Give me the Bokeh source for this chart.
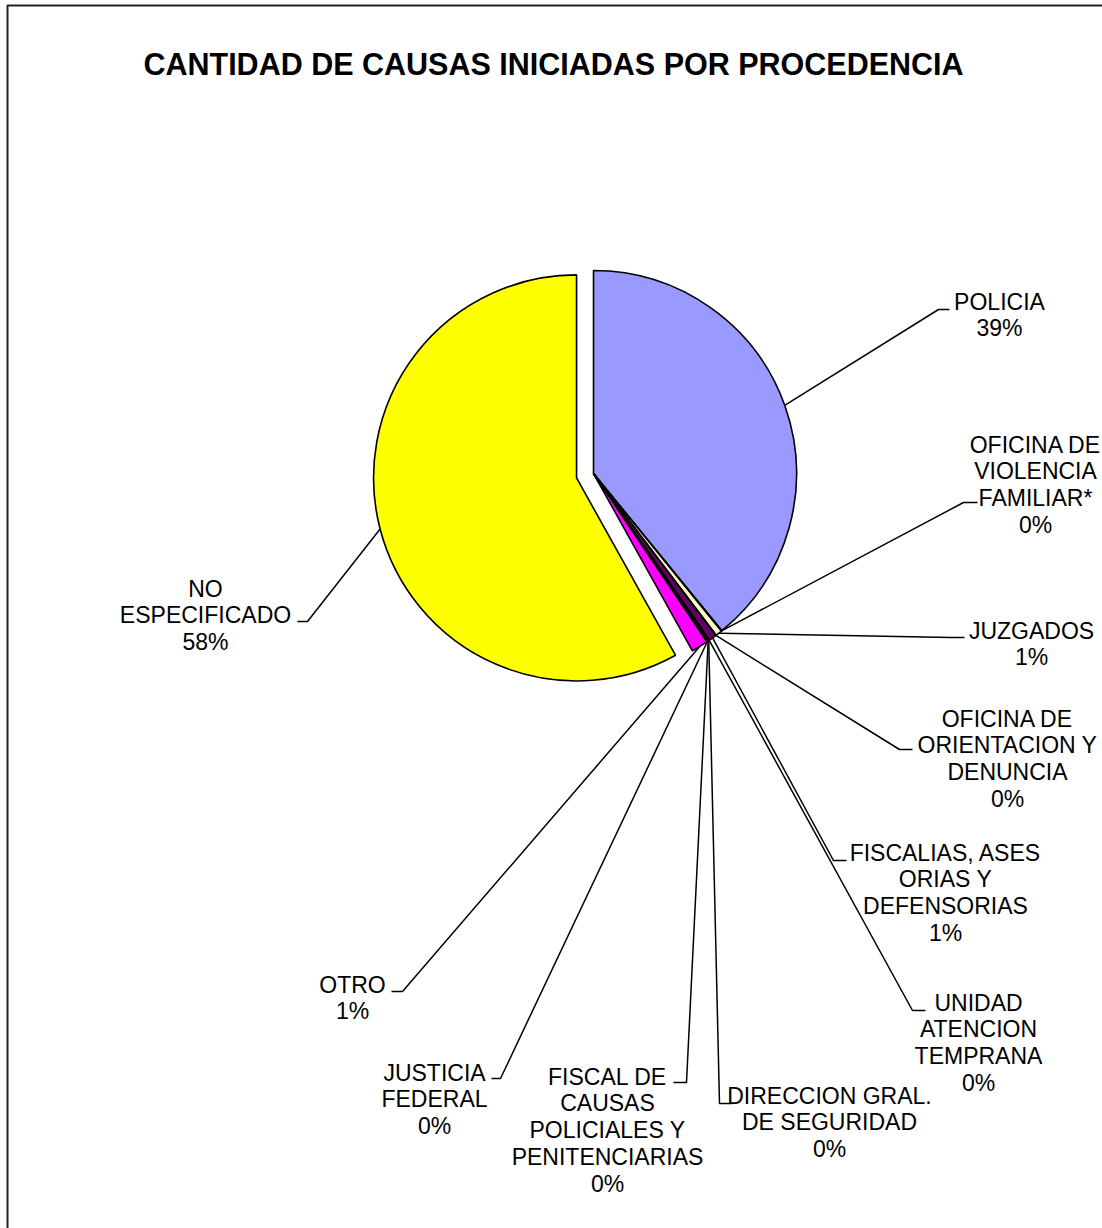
import math
from bokeh.plotting import figure
from bokeh.models import Range1d
from bokeh.core.properties import value
from bokeh.embed import file_html
from bokeh.resources import INLINE

# ---------------- data ----------------
title = "CANTIDAD DE CAUSAS INICIADAS POR PROCEDENCIA"
categories = [
    "POLICIA",
    "OFICINA DE VIOLENCIA FAMILIAR*",
    "JUZGADOS",
    "OFICINA DE ORIENTACION Y DENUNCIA",
    "FISCALIAS, ASESORIAS Y DEFENSORIAS",
    "UNIDAD ATENCION TEMPRANA",
    "DIRECCION GRAL. DE SEGURIDAD",
    "FISCAL DE CAUSAS POLICIALES Y PENITENCIARIAS",
    "JUSTICIA FEDERAL",
    "OTRO",
    "NO ESPECIFICADO",
]
# share of causes (percent)
shares = [39.1, 0.05, 0.52, 0.05, 0.6, 0.05, 0.05, 0.05, 0.1, 1.33, 58.1]
# label texts as wrapped in the chart
label_lines = [
    ["POLICIA"],
    ["OFICINA DE", "VIOLENCIA", "FAMILIAR*"],
    ["JUZGADOS"],
    ["OFICINA DE", "ORIENTACION Y", "DENUNCIA"],
    ["FISCALIAS, ASES", "ORIAS Y", "DEFENSORIAS"],
    ["UNIDAD", "ATENCION", "TEMPRANA"],
    ["DIRECCION GRAL.", "DE SEGURIDAD"],
    ["FISCAL DE", "CAUSAS", "POLICIALES Y", "PENITENCIARIAS"],
    ["JUSTICIA", "FEDERAL"],
    ["OTRO"],
    ["NO", "ESPECIFICADO"],
]
colors = ["#9999FF", "#993366", "#FFFFCC", "#CCFFFF", "#660066", "#FF8080",
          "#0066CC", "#CCCCFF", "#000080", "#FF00FF", "#FFFF00"]
exploded = [0, 0, 0, 0, 0, 0, 0, 0, 0, 0, 17.5]

# ---------------- layout (screen pixel coords) ----------------
W, H = 1102, 1228
CX, CY, R = 593, 473, 203
# (elbow x, elbow y, horizontal end x, text centre x, first line centre y)
label_layout = [
    (938, 309, 949, 999, 301),
    (963, 502, 977, 1035, 444),
    (951, 637, 964, 1031, 630),
    (899, 749, 912, 1007, 718),
    (833, 860, 846, 945, 852),
    (912, 1010, 925, 978, 1002),
    (719, 1103, 732, 829, 1095),
    (686, 1082, 673, 607, 1076),
    (500, 1078, 491, 434, 1072),
    (402, 991, 391, 352, 984),
    (307, 621, 297, 205, 588),
]
LINE_STEP = 26.8
FONT = value("Liberation Sans")


def dy(sy):
    return H - sy


p = figure(width=W, height=H, x_range=Range1d(0, W), y_range=Range1d(0, H),
           toolbar_location=None, output_backend="svg", min_border=0,
           outline_line_color=None, background_fill_color="white")
p.axis.visible = False
p.grid.visible = False

total = sum(shares)
cum = 0.0
wx, wy, sa, ea = [], [], [], []
lx, ly = [], []
tx, ty, tt = [], [], []
for i, v in enumerate(shares):
    t0 = 2 * math.pi * cum / total
    t1 = 2 * math.pi * (cum + v) / total
    cum += v
    tm = (t0 + t1) / 2
    ox = exploded[i] * math.sin(tm)
    oy = exploded[i] * math.cos(tm)
    cx = CX + ox
    cy = dy(CY) + oy
    wx.append(cx)
    wy.append(cy)
    sa.append(math.pi / 2 - t1)
    ea.append(math.pi / 2 - t0)
    # leader line
    sx = cx + R * math.sin(tm)
    sy = cy + R * math.cos(tm)
    ex, ey, hx, tcx, ty0 = label_layout[i]
    lx.append([sx, ex, hx])
    ly.append([sy, dy(ey), dy(ey)])
    pct = f"{int(math.floor(100 * v / total + 0.5))}%"
    lines = label_lines[i] + [pct]
    for k, s in enumerate(lines):
        tx.append(tcx)
        ty.append(dy(ty0 + k * LINE_STEP))
        tt.append(s)

p.wedge(x=wx, y=wy, radius=R, start_angle=sa, end_angle=ea,
        fill_color=colors, line_color="black", line_width=1.6)
p.multi_line(xs=lx, ys=ly, line_color="black", line_width=1.5)
p.text(x=tx, y=ty, text=tt, text_font=FONT, text_font_size="23px",
       text_align="center", text_baseline="middle", text_color="black")

# title
p.text(x=[553], y=[dy(63)], text=[title], text_font=FONT, text_font_size="30.5px",
       text_font_style="bold", text_align="center", text_baseline="middle",
       text_color="black")

# chart frame (cut off at right and bottom)
p.line(x=[7, 7, 1300], y=[-100, dy(5), dy(5)], line_color="#222222", line_width=2)

open("out.html", "w").write(file_html(p, INLINE))
